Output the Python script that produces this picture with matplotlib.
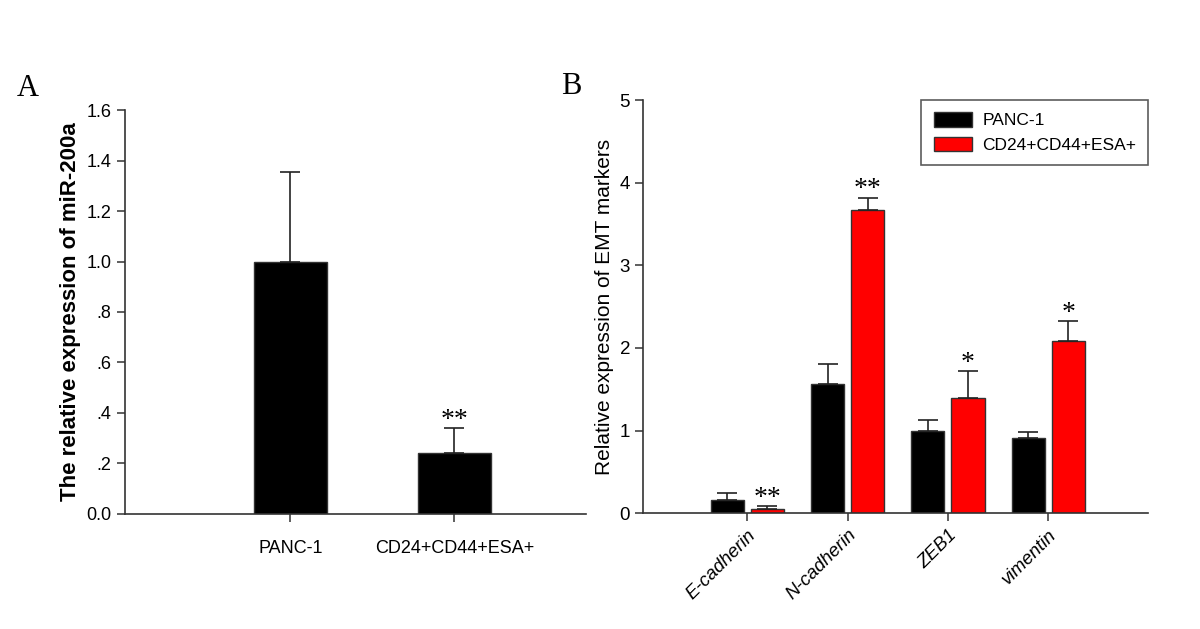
import matplotlib.pyplot as plt
import numpy as np

# panel A: miR-200a
a_groups = ["PANC-1", "CD24+CD44+ESA+"]
a_mean = [1.0, 0.24]
a_err = [0.355, 0.10]
a_sig = ["", "**"]
a_ticks = [0.0, 0.2, 0.4, 0.6, 0.8, 1.0, 1.2, 1.4, 1.6]
a_ticklabels = ["0.0", ".2", ".4", ".6", ".8", "1.0", "1.2", "1.4", "1.6"]

# panel B: EMT markers
b_markers = ["E-cadherin", "N-cadherin", "ZEB1", "vimentin"]
b_panc = [0.155, 1.565, 1.0, 0.91]
b_panc_err = [0.095, 0.245, 0.13, 0.07]
b_cd = [0.054, 3.67, 1.40, 2.09]
b_cd_err = [0.03, 0.15, 0.32, 0.24]
b_sig = ["**", "**", "*", "*"]
b_series = ["PANC-1", "CD24+CD44+ESA+"]

plt.rcParams["font.family"] = ["Liberation Sans", "DejaVu Sans"]
serif = ["Liberation Serif", "DejaVu Serif"]

fig = plt.figure(figsize=(12, 6.29), dpi=100)
axA = fig.add_axes([0.104, 0.183, 0.384, 0.642])
axB = fig.add_axes([0.536, 0.184, 0.421, 0.657])

err_kw = dict(ecolor="#222222", elinewidth=1.2, capsize=7, capthick=1.2)


def style(ax):
    for s in ("top", "right"):
        ax.spines[s].set_visible(False)
    for s in ("left", "bottom"):
        ax.spines[s].set_color("#333333")
        ax.spines[s].set_linewidth(1.2)
    ax.tick_params(direction="out", length=6, width=1.1, color="#333333")


# ---- A ----
xa = np.arange(1, len(a_groups) + 1)
axA.bar(xa, a_mean, width=0.45, color="black", edgecolor="#333333",
        linewidth=1, yerr=[np.zeros(len(a_err)), a_err], error_kw=err_kw)
for x, m, e, s in zip(xa, a_mean, a_err, a_sig):
    if s:
        axA.annotate(s, (x, m + e), xytext=(0, -3.5), textcoords="offset points",
                     ha="center", va="bottom", fontsize=20, family=serif)
axA.set_xlim(-0.01, 2.8)
axA.set_ylim(0, 1.6)
axA.set_yticks(a_ticks)
axA.set_yticklabels(a_ticklabels)
axA.set_xticks(xa)
axA.set_xticklabels(a_groups)
style(axA)
axA.tick_params(axis="both", labelsize=13)
axA.tick_params(axis="x", pad=13)
axA.set_ylabel("The relative expression of miR-200a", fontsize=16,
               fontweight="bold", labelpad=4)

# ---- B ----
xb = np.arange(1, len(b_markers) + 1)
axB.bar(xb - 0.2, b_panc, width=0.33, color="black", edgecolor="#333333",
        linewidth=1, yerr=[np.zeros(len(b_panc)), b_panc_err],
        error_kw=err_kw, label=b_series[0])
axB.bar(xb + 0.2, b_cd, width=0.33, color="#ff0000", edgecolor="#333333",
        linewidth=1, yerr=[np.zeros(len(b_cd)), b_cd_err],
        error_kw=err_kw, label=b_series[1])
for x, m, e, s in zip(xb + 0.2, b_cd, b_cd_err, b_sig):
    axB.annotate(s, (x, m + e), xytext=(0, -3.5), textcoords="offset points",
                 ha="center", va="bottom", fontsize=20, family=serif)
axB.set_xlim(-0.04, 5.0)
axB.set_ylim(0, 5)
axB.set_yticks(range(0, 6))
axB.set_xticks(xb)
axB.set_xticklabels(b_markers, rotation=45, ha="right", rotation_mode="anchor",
                    style="italic")
style(axB)
axB.tick_params(axis="both", labelsize=13.5)
axB.set_ylabel("Relative expression of EMT markers", fontsize=15, labelpad=4)
leg = axB.legend(loc="upper right", bbox_to_anchor=(1.0, 1.0), fontsize=12.5,
                 frameon=True, fancybox=False, borderaxespad=0,
                 handlelength=2.2, handleheight=0.9, borderpad=0.7,
                 handletextpad=0.6)
leg.get_frame().set_edgecolor("#333333")
leg.get_frame().set_linewidth(1.2)

fig.text(17 / 1200, 1 - 89 / 629, "A", family=serif, fontsize=22, va="center")
fig.text(561 / 1200, 1 - 86 / 629, "B", family=serif, fontsize=22, va="center")

fig.savefig("out.png", dpi=100)
